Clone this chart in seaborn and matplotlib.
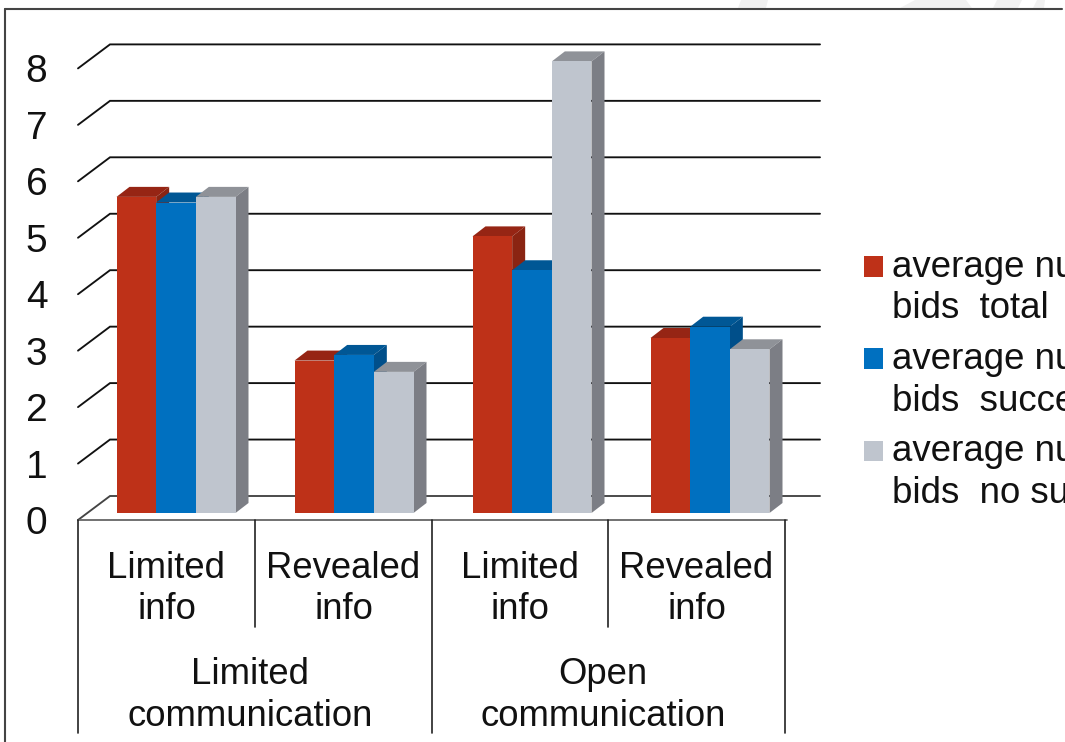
import matplotlib
matplotlib.use("Agg")
import matplotlib.pyplot as plt
from matplotlib.patches import Polygon
from matplotlib.transforms import ScaledTranslation
import pandas as pd
import seaborn as sns

# Chart values
conditions = ["Limited\ninfo", "Revealed\ninfo", "Limited\ninfo", "Revealed\ninfo"]
communication = ["Limited\ncommunication", "Open\ncommunication"]
series_names = ["average number of\nbids  total",
                "average number of\nbids  successful",
                "average number of\nbids  no success"]
bids_total = [5.6, 2.7, 4.9, 3.1]
bids_success = [5.5, 2.8, 4.3, 3.3]
bids_no_success = [5.6, 2.5, 8.0, 2.9]

front_colors = ["#BE3118", "#0070C0", "#BFC5CE"]
top_colors = ["#962514", "#005795", "#8F9298"]
side_colors = ["#8A2412", "#004F8A", "#7C7E85"]

W, H = 1065, 742
UNIT_X, UNIT_Y = 178.0, 56.45   # pixels per category / per value unit
X0_PX, Y0_PX = 176.0, 513.0     # pixel position of first category and of value 0
DEPTH_X, DEPTH_Y = 13 / UNIT_X, 10 / UNIT_Y


def gx(px):
    return (px - X0_PX) / UNIT_X


def gy(py):
    return (Y0_PX - py) / UNIT_Y


sns.set_theme(style="white", rc={"axes.facecolor": "white", "figure.facecolor": "white"})
plt.rcParams["font.family"] = ["Liberation Sans", "DejaVu Sans"]

fig = plt.figure(figsize=(W / 100, H / 100), dpi=100)
ax = fig.add_axes([78 / W, 1 - 520 / H, (820 - 78) / W, (520 - 44) / H])

slots = list(range(len(conditions)))
df = pd.DataFrame({
    "slot": slots * 3,
    "series": sum([[n] * 4 for n in series_names], []),
    "bids": bids_total + bids_success + bids_no_success,
})
sns.barplot(data=df, x="slot", y="bids", hue="series", hue_order=series_names,
            palette=front_colors, saturation=1, width=119 / UNIT_X, gap=0,
            linewidth=0, ax=ax, zorder=3)

ax.set_xlim(gx(78), gx(820))
ax.set_ylim(gy(520), gy(44))

# Extruded top and side faces of every bar, painted left to right
for s, container in enumerate(ax.containers):
    for bar in container:
        x0, x1 = bar.get_x(), bar.get_x() + bar.get_width()
        v = bar.get_height()
        order = 3 + s * 0.1
        ax.add_patch(Polygon([(x0, v), (x1, v), (x1 + DEPTH_X, v + DEPTH_Y), (x0 + DEPTH_X, v + DEPTH_Y)],
                             closed=True, fc=top_colors[s], ec="none", zorder=order))
        ax.add_patch(Polygon([(x1, 0), (x1, v), (x1 + DEPTH_X, v + DEPTH_Y), (x1 + DEPTH_X, DEPTH_Y)],
                             closed=True, fc=side_colors[s], ec="none", zorder=order))
        bar.set_zorder(order + 0.05)

# Back-wall gridlines with their diagonal run to the front edge
value_ticks = list(range(9))
wall_front, wall_back = gy(520), gy(496)
for v in value_ticks:
    color = "#444444" if v == 0 else "#111111"
    ax.plot([gx(78), gx(110), gx(820)], [v + wall_front, v + wall_back, v + wall_back],
            color=color, lw=1.35, solid_joinstyle="miter", zorder=1, clip_on=False)

# Front edge of the floor and the two-level category separators
ax.plot([gx(78), gx(787)], [wall_front, wall_front], color="#666666", lw=1.3, clip_on=False, zorder=2)
for px, bottom in [(78, 733), (255, 627), (432, 733), (608, 627), (785, 733)]:
    ax.plot([gx(px), gx(px)], [wall_front, gy(bottom)], color="#222222", lw=1.2, clip_on=False, zorder=2)

# Value axis labels sit on the front edge of the wall
ax.set_yticks(value_ticks)
ax.set_yticklabels([str(v) for v in value_ticks], fontsize=28, color="#111111")
ax.tick_params(axis="y", length=0, pad=22)
for lab in ax.get_yticklabels():
    lab.set_transform(lab.get_transform() + ScaledTranslation(0, -7 / 100, fig.dpi_scale_trans))

# First-level category labels, centred between separators
ax.set_xticks([gx(166.5), gx(343.5), gx(520), gx(696.5)])
ax.set_xticklabels(conditions, fontsize=26.3, color="#111111", linespacing=1.24)
ax.tick_params(axis="x", length=0, pad=22.2)
ax.set_xlabel("")
ax.set_ylabel("")

for label, px in zip(communication, [250, 603]):
    ax.text(gx(px), gy(695.5), label, ha="center", va="center", fontsize=26.3,
            color="#111111", linespacing=1.24, clip_on=False)

sns.despine(ax=ax, left=True, bottom=True)

# Legend runs past the right-hand edge of the canvas
handles, labels = ax.get_legend_handles_labels()
legend = ax.legend(handles, labels, loc="upper left", bbox_to_anchor=(864 / W, 1 - 250 / H),
                   bbox_transform=fig.transFigure, frameon=False, fontsize=26.4, borderpad=0,
                   borderaxespad=0, handlelength=0.52, handleheight=0.49, handletextpad=0.25,
                   labelspacing=0.43, labelcolor="#111111")
for txt in legend.get_texts():
    txt.set_linespacing(1.24)
# Swatches line up with the first line of each entry
for swatch in legend.legend_handles:
    swatch.set_y(swatch.get_y() + 16)

# Outer frame and the pale shapes above it
fig.add_artist(plt.Line2D([5 / W, 5 / W], [0, 1 - 9 / H], color="#444444", lw=1.5))
fig.add_artist(plt.Line2D([5 / W, 1062 / W], [1 - 9 / H, 1 - 9 / H], color="#444444", lw=1.5))
for pts in [[(738, 8), (741, 0), (768, 0), (766, 8)],
            [(900, 8), (915, 0), (966, 0), (972, 8)],
            [(993, 8), (997, 0), (1022, 0), (1018, 8)],
            [(1033, 8), (1037, 0), (1045, 0), (1044, 8)]]:
    fig.add_artist(Polygon([(x / W, 1 - y / H) for x, y in pts], closed=True,
                           transform=fig.transFigure, fc="#F1F1F1", ec="none"))

fig.savefig("out.png", dpi=100)
